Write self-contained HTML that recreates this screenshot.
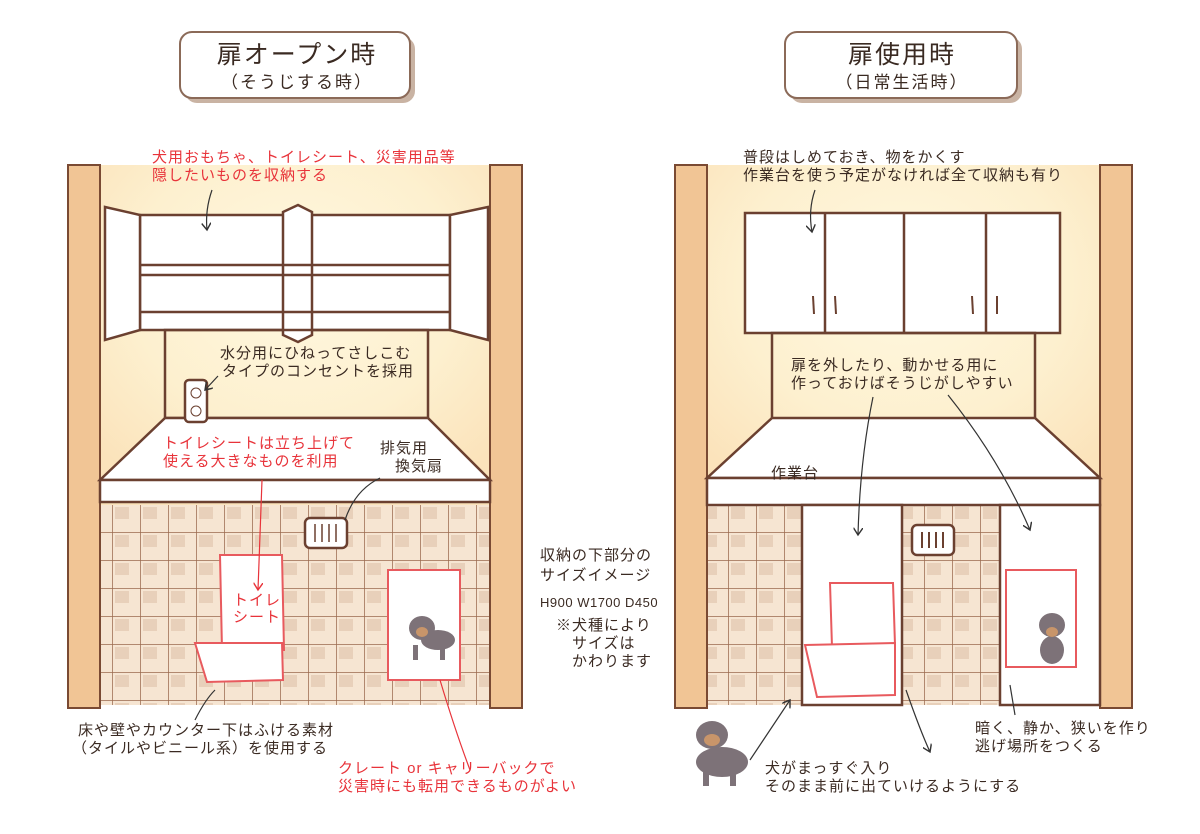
<!DOCTYPE html>
<html><head><meta charset="utf-8"><style>
body{margin:0;background:#fff;}
svg{display:block;font-family:"Liberation Sans","Noto Sans CJK JP",sans-serif;}
.b{fill:#3a2a22;font-size:15px;letter-spacing:1px}
.r{fill:#e8333a;font-size:15px;letter-spacing:1px}
</style></head><body>
<svg width="1200" height="834" viewBox="0 0 1200 834" xmlns="http://www.w3.org/2000/svg">
<defs>
<radialGradient id="glow" cx="0.5" cy="0.35" r="0.7">
<stop offset="0" stop-color="#fff8e0"/><stop offset="0.6" stop-color="#fdf0cf"/><stop offset="1" stop-color="#fbe3bb"/>
</radialGradient>
<pattern id="tile" width="28" height="28" patternUnits="userSpaceOnUse">
<rect width="28" height="28" fill="#f6e5d2"/><rect x="3" y="3" width="14" height="12" fill="#dcbfa5" opacity="0.55"/>
<path d="M0 0H28M0 0V28" stroke="#9a6a4e" stroke-width="1.5"/>
</pattern>
<marker id="ah" markerWidth="8" markerHeight="8" refX="6" refY="4" orient="auto"><path d="M0 0L6 4L0 8" fill="none" stroke="#333" stroke-width="1.2"/></marker>
<marker id="ahr" markerWidth="8" markerHeight="8" refX="6" refY="4" orient="auto"><path d="M0 0L6 4L0 8" fill="none" stroke="#e8333a" stroke-width="1.2"/></marker>
</defs>
<!-- titles -->
<g>
<rect x="185" y="37" width="230" height="66" rx="12" fill="#c9b3a3"/>
<rect x="180" y="32" width="230" height="66" rx="12" fill="#fff" stroke="#8b6a58" stroke-width="2"/>
<text x="297" y="63" text-anchor="middle" font-size="25" letter-spacing="2" fill="#3a2a22">扉オープン時</text>
<text x="297" y="88" text-anchor="middle" font-size="17" letter-spacing="2" fill="#3a2a22">（そうじする時）</text>
<rect x="790" y="37" width="232" height="66" rx="12" fill="#c9b3a3"/>
<rect x="785" y="32" width="232" height="66" rx="12" fill="#fff" stroke="#8b6a58" stroke-width="2"/>
<text x="902" y="63" text-anchor="middle" font-size="25" letter-spacing="2" fill="#3a2a22">扉使用時</text>
<text x="902" y="88" text-anchor="middle" font-size="17" letter-spacing="2" fill="#3a2a22">（日常生活時）</text>
</g>

<!-- LEFT PANEL -->
<rect x="100" y="165" width="390" height="340" fill="url(#glow)"/>
<rect x="100" y="505" width="390" height="200" fill="url(#tile)"/>
<rect x="68" y="165" width="32" height="543" fill="#f1c595" stroke="#7a4a33" stroke-width="2"/>
<rect x="490" y="165" width="32" height="543" fill="#f1c595" stroke="#7a4a33" stroke-width="2"/>
<g stroke="#6b4030" stroke-width="2.5" fill="#fff">
<rect x="140" y="215" width="310" height="115"/>
<polygon points="105,207 140,215 140,330 105,340"/>
<polygon points="488,207 450,215 450,330 488,340"/>
<polygon points="283,212 298,205 312,212 312,335 298,342 283,335"/>
<line x1="140" y1="265" x2="450" y2="265"/><line x1="140" y1="275" x2="450" y2="275"/>
<line x1="140" y1="312" x2="450" y2="312"/>
<rect x="165" y="330" width="263" height="88" fill="none"/>
<polygon points="165,418 428,418 490,480 100,480"/>
<rect x="100" y="480" width="390" height="22"/>
<rect x="185" y="380" width="22" height="42" rx="4"/>
<rect x="305" y="518" width="42" height="30" rx="5"/>
</g>
<g stroke="#6b4030" stroke-width="1.5"><line x1="315" y1="524" x2="315" y2="542"/><line x1="322" y1="524" x2="322" y2="542"/><line x1="329" y1="524" x2="329" y2="542"/><line x1="336" y1="524" x2="336" y2="542"/></g>
<circle cx="196" cy="393" r="5" fill="none" stroke="#6b4030"/><circle cx="196" cy="411" r="5" fill="none" stroke="#6b4030"/>
<g stroke="#e85a5e" stroke-width="2" fill="#fff">
<path d="M220 555 L282 555 L284 650 L222 650 Z"/>
<path d="M195 643 L282 643 L283 680 L207 682 Z"/>
<rect x="388" y="570" width="72" height="110"/>
</g>
<g fill="#7d7278"><ellipse cx="422" cy="628" rx="13" ry="12"/><ellipse cx="438" cy="640" rx="17" ry="10"/><rect x="413" y="645" width="5" height="15"/><rect x="440" y="645" width="5" height="15"/></g>
<ellipse cx="422" cy="632" rx="6" ry="5" fill="#c8956a"/>
<text x="257" y="605" text-anchor="middle" class="r">トイレ</text>
<text x="257" y="622" text-anchor="middle" class="r">シート</text>
<text x="152" y="162" class="r">犬用おもちゃ、トイレシート、災害用品等</text>
<text x="152" y="180" class="r">隠したいものを収納する</text>
<text x="220" y="358" class="b">水分用にひねってさしこむ</text>
<text x="222" y="376" class="b">タイプのコンセントを採用</text>
<text x="163" y="448" class="r">トイレシートは立ち上げて</text>
<text x="163" y="466" class="r">使える大きなものを利用</text>
<text x="380" y="453" class="b">排気用</text>
<text x="395" y="471" class="b">換気扇</text>
<text x="78" y="735" class="b">床や壁やカウンター下はふける素材</text>
<text x="72" y="753" class="b">（タイルやビニール系）を使用する</text>
<text x="338" y="773" class="r">クレート or キャリーバックで</text>
<text x="338" y="791" class="r">災害時にも転用できるものがよい</text>
<text x="540" y="560" class="b">収納の下部分の</text>
<text x="540" y="580" class="b">サイズイメージ</text>
<text x="540" y="607" fill="#3a2a22" font-size="13" letter-spacing="0.5">H900 W1700 D450</text>
<text x="556" y="630" class="b">※犬種により</text>
<text x="572" y="648" class="b">サイズは</text>
<text x="572" y="666" class="b">かわります</text>
<g fill="none" stroke="#333" stroke-width="1.2">
<path d="M212 190 Q205 210 207 230" marker-end="url(#ah)"/><path d="M218 376 L205 390" marker-end="url(#ah)"/>
<path d="M380 478 Q355 490 345 520"/><path d="M195 720 Q205 700 215 690"/>
</g>
<g fill="none" stroke="#e8333a" stroke-width="1.2"><path d="M262 480 L258 590" marker-end="url(#ahr)"/><path d="M440 680 Q455 730 470 770"/></g>

<!-- RIGHT PANEL -->
<rect x="707" y="165" width="393" height="340" fill="url(#glow)"/>
<rect x="707" y="505" width="393" height="200" fill="url(#tile)"/>
<rect x="675" y="165" width="32" height="543" fill="#f1c595" stroke="#7a4a33" stroke-width="2"/>
<rect x="1100" y="165" width="32" height="543" fill="#f1c595" stroke="#7a4a33" stroke-width="2"/>
<g stroke="#6b4030" stroke-width="2.5" fill="#fff">
<rect x="745" y="213" width="315" height="120"/>
<line x1="825" y1="213" x2="825" y2="333"/><line x1="904" y1="213" x2="904" y2="333"/><line x1="986" y1="213" x2="986" y2="333"/>
<rect x="772" y="333" width="263" height="104" fill="none"/>
<polygon points="772,418 1035,418 1100,478 707,478"/>
<rect x="707" y="478" width="393" height="27"/>
<rect x="802" y="505" width="100" height="200"/>
<rect x="1000" y="505" width="100" height="200"/>
<rect x="912" y="525" width="42" height="30" rx="5"/>
</g>
<rect x="772" y="418" width="263" height="19" fill="none"/>
<g stroke="#6b4030" stroke-width="2"><line x1="813" y1="296" x2="814" y2="314"/><line x1="835" y1="296" x2="836" y2="314"/><line x1="972" y1="296" x2="973" y2="314"/><line x1="997" y1="296" x2="997" y2="314"/>
<line x1="922" y1="532" x2="922" y2="548"/><line x1="929" y1="532" x2="929" y2="548"/><line x1="936" y1="532" x2="936" y2="548"/><line x1="943" y1="532" x2="943" y2="548"/></g>
<g stroke="#e85a5e" stroke-width="2" fill="#fff">
<path d="M830 583 L893 583 L895 645 L832 647 Z"/>
<path d="M805 645 L895 643 L895 695 L817 697 Z"/>
<rect x="1006" y="570" width="70" height="97"/>
</g>
<g fill="#7d7278"><ellipse cx="1052" cy="625" rx="13" ry="12"/><ellipse cx="1052" cy="650" rx="12" ry="14"/></g>
<ellipse cx="1052" cy="632" rx="6" ry="5" fill="#c8956a"/>
<text x="743" y="162" class="b">普段はしめておき、物をかくす</text>
<text x="743" y="180" class="b">作業台を使う予定がなければ全て収納も有り</text>
<text x="791" y="370" class="b">扉を外したり、動かせる用に</text>
<text x="791" y="388" class="b">作っておけばそうじがしやすい</text>
<text x="771" y="478" class="b">作業台</text>
<text x="975" y="733" class="b">暗く、静か、狭いを作り</text>
<text x="975" y="751" class="b">逃げ場所をつくる</text>
<text x="765" y="773" class="b">犬がまっすぐ入り</text>
<text x="765" y="791" class="b">そのまま前に出ていけるようにする</text>
<g fill="none" stroke="#333" stroke-width="1.2">
<path d="M815 190 Q808 210 812 232" marker-end="url(#ah)"/><path d="M873 397 Q860 460 858 535" marker-end="url(#ah)"/>
<path d="M948 395 Q1000 460 1030 530" marker-end="url(#ah)"/><path d="M1015 715 L1010 685"/>
<path d="M750 760 Q770 730 790 700" marker-end="url(#ah)"/><path d="M906 690 Q920 730 930 752" marker-end="url(#ah)"/>
</g>
<g fill="#7d7278"><ellipse cx="712" cy="735" rx="16" ry="14"/><ellipse cx="722" cy="762" rx="26" ry="15"/><rect x="703" y="770" width="6" height="16"/><rect x="730" y="770" width="6" height="16"/></g>
<ellipse cx="712" cy="740" rx="8" ry="6" fill="#c8956a"/>
</svg>
</body></html>
